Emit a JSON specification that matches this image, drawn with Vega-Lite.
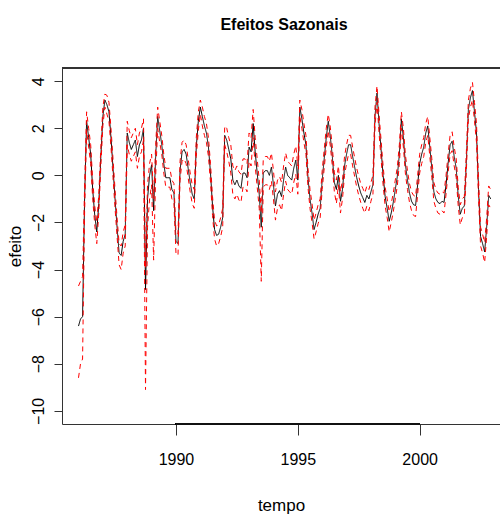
{
"$schema": "https://vega.github.io/schema/vega-lite/v6.json",
"width": 438, "height": 356,
"autosize": {"type": "none"},
"padding": {"left": 62, "top": 68, "right": 0, "bottom": 93},
"background": "white",
"config": {"view": {"stroke": null},
"axisX": {"format": "d", "grid": false, "domainColor": "#333", "domainWidth": 1, "tickColor": "#333", "tickSize": 11, "labelFont": "Liberation Sans Narrow, Liberation Sans, sans-serif", "labelFontSize": 16, "labelColor": "#000", "labelPadding": 16, "labelBaseline": "top", "titleFont": "Liberation Sans Narrow, Liberation Sans, sans-serif", "titleFontSize": 17, "titleFontWeight": "normal", "titleColor": "#000", "titlePadding": 30},
"axisY": {"format": "d", "grid": false, "domainColor": "#333", "domainWidth": 1, "tickColor": "#333", "tickSize": 8, "labelAngle": -90, "labelFont": "Liberation Sans", "labelFontSize": 16, "labelColor": "#000", "labelPadding": 8, "titleFont": "Liberation Sans", "titleFontSize": 17, "titleFontWeight": "normal", "titleColor": "#000", "titlePadding": 6}
},
"title": {"text": "Efeitos Sazonais", "font": "Liberation Sans Narrow, Liberation Sans, sans-serif", "fontSize": 16, "fontWeight": "bold", "color": "#000", "anchor": "middle", "baseline": "alphabetic", "offset": 22, "dx": 3},
"data": {"values": [
{"t":1986.000,"v":-6.4,"lo":-8.6,"hi":-4.7},{"t":1986.083,"v":-6.1,"lo":-8.0,"hi":-4.5},{"t":1986.167,"v":-6.0,"lo":-7.8,"hi":-4.3},{"t":1986.250,"v":-1.0,"lo":-1.6,"hi":-0.5},{"t":1986.333,"v":2.3,"lo":1.9,"hi":2.7},{"t":1986.417,"v":1.6,"lo":1.2,"hi":2.0},{"t":1986.500,"v":0.9,"lo":0.5,"hi":1.3},{"t":1986.583,"v":-0.6,"lo":-1.0,"hi":-0.2},{"t":1986.667,"v":-1.7,"lo":-2.1,"hi":-1.3},{"t":1986.750,"v":-2.4,"lo":-2.9,"hi":-2.0},{"t":1986.833,"v":-1.2,"lo":-1.6,"hi":-0.8},{"t":1986.917,"v":0.8,"lo":0.4,"hi":1.2},
{"t":1987.000,"v":2.5,"lo":2.1,"hi":2.9},{"t":1987.083,"v":3.2,"lo":2.9,"hi":3.45},{"t":1987.167,"v":3.0,"lo":2.6,"hi":3.4},{"t":1987.250,"v":2.7,"lo":2.3,"hi":3.1},{"t":1987.333,"v":1.6,"lo":1.2,"hi":2.0},{"t":1987.417,"v":0.3,"lo":-0.1,"hi":0.7},{"t":1987.500,"v":-1.0,"lo":-1.4,"hi":-0.6},{"t":1987.583,"v":-2.2,"lo":-2.6,"hi":-1.8},{"t":1987.667,"v":-3.3,"lo":-3.8,"hi":-2.9},{"t":1987.750,"v":-3.4,"lo":-4.0,"hi":-3.0},{"t":1987.833,"v":-2.8,"lo":-3.3,"hi":-2.4},{"t":1987.917,"v":-2.5,"lo":-3.0,"hi":-2.1},
{"t":1988.000,"v":1.8,"lo":1.3,"hi":2.3},{"t":1988.083,"v":1.4,"lo":0.9,"hi":1.9},{"t":1988.167,"v":1.1,"lo":0.6,"hi":1.6},{"t":1988.250,"v":1.3,"lo":0.8,"hi":1.8},{"t":1988.333,"v":1.5,"lo":1.0,"hi":2.0},{"t":1988.417,"v":0.8,"lo":0.3,"hi":1.3},{"t":1988.500,"v":1.3,"lo":0.8,"hi":1.8},{"t":1988.583,"v":1.5,"lo":1.0,"hi":2.0},{"t":1988.667,"v":2.0,"lo":1.5,"hi":2.4},{"t":1988.750,"v":-4.85,"lo":-9.1,"hi":-3.9},{"t":1988.833,"v":-1.0,"lo":-2.2,"hi":-0.4},{"t":1988.917,"v":0.0,"lo":-1.0,"hi":0.5},
{"t":1989.000,"v":0.45,"lo":-0.4,"hi":0.9},{"t":1989.083,"v":-1.5,"lo":-3.6,"hi":-1.0},{"t":1989.167,"v":0.8,"lo":0.0,"hi":1.3},{"t":1989.250,"v":2.5,"lo":2.0,"hi":2.9},{"t":1989.333,"v":1.9,"lo":1.4,"hi":2.3},{"t":1989.417,"v":1.3,"lo":0.9,"hi":1.7},{"t":1989.500,"v":0.5,"lo":0.1,"hi":0.9},{"t":1989.583,"v":-0.1,"lo":-0.5,"hi":0.3},{"t":1989.667,"v":-0.1,"lo":-0.5,"hi":0.3},{"t":1989.750,"v":-0.1,"lo":-0.5,"hi":0.3},{"t":1989.833,"v":-0.6,"lo":-1.0,"hi":-0.2},{"t":1989.917,"v":-0.75,"lo":-1.2,"hi":-0.35},
{"t":1990.000,"v":-2.8,"lo":-3.3,"hi":-2.4},{"t":1990.083,"v":-2.9,"lo":-3.4,"hi":-2.5},{"t":1990.167,"v":0.2,"lo":-0.2,"hi":0.6},{"t":1990.250,"v":1.0,"lo":0.6,"hi":1.4},{"t":1990.333,"v":1.1,"lo":0.7,"hi":1.5},{"t":1990.417,"v":0.9,"lo":0.5,"hi":1.3},{"t":1990.500,"v":0.3,"lo":-0.1,"hi":0.7},{"t":1990.583,"v":-0.3,"lo":-0.7,"hi":0.1},{"t":1990.667,"v":-0.8,"lo":-1.2,"hi":-0.4},{"t":1990.750,"v":-1.0,"lo":-1.4,"hi":-0.6},{"t":1990.833,"v":1.2,"lo":0.8,"hi":1.6},{"t":1990.917,"v":2.3,"lo":1.9,"hi":2.7},
{"t":1991.000,"v":2.9,"lo":2.6,"hi":3.2},{"t":1991.083,"v":2.5,"lo":2.1,"hi":2.9},{"t":1991.167,"v":2.1,"lo":1.7,"hi":2.5},{"t":1991.250,"v":1.8,"lo":1.4,"hi":2.2},{"t":1991.333,"v":1.2,"lo":0.8,"hi":1.6},{"t":1991.417,"v":0.1,"lo":-0.3,"hi":0.5},{"t":1991.500,"v":-1.3,"lo":-1.7,"hi":-0.9},{"t":1991.583,"v":-2.3,"lo":-2.7,"hi":-1.9},{"t":1991.667,"v":-2.55,"lo":-3.0,"hi":-2.15},{"t":1991.750,"v":-2.5,"lo":-2.9,"hi":-2.1},{"t":1991.833,"v":-2.2,"lo":-2.6,"hi":-1.8},{"t":1991.917,"v":-1.8,"lo":-2.2,"hi":-1.4},
{"t":1992.000,"v":1.7,"lo":1.3,"hi":2.1},{"t":1992.083,"v":1.5,"lo":1.0,"hi":2.0},{"t":1992.167,"v":1.1,"lo":0.6,"hi":1.6},{"t":1992.250,"v":0.7,"lo":0.1,"hi":1.3},{"t":1992.333,"v":-0.2,"lo":-0.8,"hi":0.4},{"t":1992.417,"v":-0.4,"lo":-1.0,"hi":0.2},{"t":1992.500,"v":-0.2,"lo":-0.8,"hi":0.4},{"t":1992.583,"v":-0.45,"lo":-1.05,"hi":0.15},{"t":1992.667,"v":-0.55,"lo":-1.15,"hi":0.05},{"t":1992.750,"v":0.1,"lo":-0.5,"hi":0.7},{"t":1992.833,"v":0.1,"lo":-0.5,"hi":0.7},{"t":1992.917,"v":-0.1,"lo":-0.7,"hi":0.5},
{"t":1993.000,"v":1.2,"lo":0.6,"hi":1.8},{"t":1993.083,"v":1.0,"lo":0.4,"hi":1.6},{"t":1993.167,"v":2.2,"lo":1.6,"hi":2.8},{"t":1993.250,"v":1.0,"lo":0.4,"hi":1.6},{"t":1993.333,"v":0.1,"lo":-0.5,"hi":0.7},{"t":1993.417,"v":-0.8,"lo":-1.4,"hi":-0.2},{"t":1993.500,"v":-2.2,"lo":-4.5,"hi":-1.6},{"t":1993.583,"v":0.1,"lo":-0.5,"hi":0.7},{"t":1993.667,"v":0.2,"lo":-0.4,"hi":0.8},{"t":1993.750,"v":0.2,"lo":-0.4,"hi":0.8},{"t":1993.833,"v":0.0,"lo":-0.6,"hi":0.6},{"t":1993.917,"v":0.35,"lo":-0.25,"hi":0.95},
{"t":1994.000,"v":-0.4,"lo":-1.0,"hi":0.2},{"t":1994.083,"v":-1.3,"lo":-1.9,"hi":-0.7},{"t":1994.167,"v":-0.8,"lo":-1.4,"hi":-0.2},{"t":1994.250,"v":-0.65,"lo":-1.25,"hi":-0.05},{"t":1994.333,"v":-0.9,"lo":-1.5,"hi":-0.3},{"t":1994.417,"v":-0.2,"lo":-0.8,"hi":0.4},{"t":1994.500,"v":0.35,"lo":-0.25,"hi":0.95},{"t":1994.583,"v":0.0,"lo":-0.6,"hi":0.6},{"t":1994.667,"v":-0.1,"lo":-0.7,"hi":0.5},{"t":1994.750,"v":-0.2,"lo":-0.8,"hi":0.4},{"t":1994.833,"v":0.3,"lo":-0.3,"hi":0.9},{"t":1994.917,"v":0.65,"lo":0.05,"hi":1.25},
{"t":1995.000,"v":-0.2,"lo":-0.8,"hi":0.4},{"t":1995.083,"v":2.9,"lo":2.5,"hi":3.2},{"t":1995.167,"v":2.4,"lo":2.0,"hi":2.8},{"t":1995.250,"v":1.8,"lo":1.4,"hi":2.2},{"t":1995.333,"v":1.3,"lo":0.9,"hi":1.7},{"t":1995.417,"v":-0.1,"lo":-0.5,"hi":0.3},{"t":1995.500,"v":-1.0,"lo":-1.4,"hi":-0.6},{"t":1995.583,"v":-1.6,"lo":-2.0,"hi":-1.2},{"t":1995.667,"v":-2.3,"lo":-2.7,"hi":-1.9},{"t":1995.750,"v":-2.0,"lo":-2.4,"hi":-1.6},{"t":1995.833,"v":-1.65,"lo":-2.05,"hi":-1.25},{"t":1995.917,"v":-1.4,"lo":-1.8,"hi":-1.0},
{"t":1996.000,"v":-0.2,"lo":-0.6,"hi":0.2},{"t":1996.083,"v":0.7,"lo":0.3,"hi":1.1},{"t":1996.167,"v":1.6,"lo":1.2,"hi":2.0},{"t":1996.250,"v":2.3,"lo":1.9,"hi":2.6},{"t":1996.333,"v":1.65,"lo":1.25,"hi":2.05},{"t":1996.417,"v":0.8,"lo":0.4,"hi":1.2},{"t":1996.500,"v":-0.3,"lo":-0.7,"hi":0.1},{"t":1996.583,"v":-0.6,"lo":-1.2,"hi":-0.2},{"t":1996.667,"v":0.0,"lo":-0.4,"hi":0.4},{"t":1996.750,"v":-1.1,"lo":-1.6,"hi":-0.7},{"t":1996.833,"v":-0.6,"lo":-1.0,"hi":-0.2},{"t":1996.917,"v":0.4,"lo":0.0,"hi":0.8},
{"t":1997.000,"v":0.9,"lo":0.5,"hi":1.3},{"t":1997.083,"v":1.3,"lo":0.9,"hi":1.7},{"t":1997.167,"v":1.3,"lo":0.9,"hi":1.7},{"t":1997.250,"v":0.8,"lo":0.4,"hi":1.2},{"t":1997.333,"v":0.35,"lo":-0.05,"hi":0.75},{"t":1997.417,"v":-0.1,"lo":-0.5,"hi":0.3},{"t":1997.500,"v":-0.45,"lo":-0.85,"hi":-0.05},{"t":1997.583,"v":-0.75,"lo":-1.15,"hi":-0.35},{"t":1997.667,"v":-0.95,"lo":-1.4,"hi":-0.55},{"t":1997.750,"v":-1.15,"lo":-1.6,"hi":-0.75},{"t":1997.833,"v":-0.85,"lo":-1.3,"hi":-0.45},{"t":1997.917,"v":-1.0,"lo":-1.5,"hi":-0.6},
{"t":1998.000,"v":-0.7,"lo":-1.1,"hi":-0.3},{"t":1998.083,"v":-0.4,"lo":-0.8,"hi":0.0},{"t":1998.167,"v":2.5,"lo":2.1,"hi":2.9},{"t":1998.250,"v":3.5,"lo":3.1,"hi":3.8},{"t":1998.333,"v":2.2,"lo":1.8,"hi":2.6},{"t":1998.417,"v":1.1,"lo":0.7,"hi":1.5},{"t":1998.500,"v":0.0,"lo":-0.4,"hi":0.4},{"t":1998.583,"v":-0.9,"lo":-1.3,"hi":-0.5},{"t":1998.667,"v":-1.4,"lo":-1.8,"hi":-1.0},{"t":1998.750,"v":-1.95,"lo":-2.4,"hi":-1.55},{"t":1998.833,"v":-1.6,"lo":-2.0,"hi":-1.2},{"t":1998.917,"v":-1.15,"lo":-1.55,"hi":-0.75},
{"t":1999.000,"v":-0.6,"lo":-1.0,"hi":-0.2},{"t":1999.083,"v":-0.05,"lo":-0.45,"hi":0.35},{"t":1999.167,"v":0.9,"lo":0.5,"hi":1.3},{"t":1999.250,"v":2.4,"lo":2.0,"hi":2.7},{"t":1999.333,"v":1.6,"lo":1.2,"hi":2.0},{"t":1999.417,"v":0.45,"lo":0.05,"hi":0.85},{"t":1999.500,"v":-0.2,"lo":-0.6,"hi":0.2},{"t":1999.583,"v":-0.75,"lo":-1.15,"hi":-0.35},{"t":1999.667,"v":-1.1,"lo":-1.5,"hi":-0.7},{"t":1999.750,"v":-1.25,"lo":-1.7,"hi":-0.85},{"t":1999.833,"v":-1.28,"lo":-1.75,"hi":-0.9},{"t":1999.917,"v":-0.4,"lo":-0.8,"hi":0.0},
{"t":2000.000,"v":0.5,"lo":0.1,"hi":0.9},{"t":2000.083,"v":0.9,"lo":0.5,"hi":1.3},{"t":2000.167,"v":1.2,"lo":0.8,"hi":1.6},{"t":2000.250,"v":1.8,"lo":1.4,"hi":2.2},{"t":2000.333,"v":2.1,"lo":1.7,"hi":2.5},{"t":2000.417,"v":1.2,"lo":0.8,"hi":1.6},{"t":2000.500,"v":0.3,"lo":-0.1,"hi":0.7},{"t":2000.583,"v":-0.7,"lo":-1.1,"hi":-0.3},{"t":2000.667,"v":-1.0,"lo":-1.4,"hi":-0.6},{"t":2000.750,"v":-1.15,"lo":-1.6,"hi":-0.75},{"t":2000.833,"v":-1.2,"lo":-1.65,"hi":-0.8},{"t":2000.917,"v":-1.1,"lo":-1.5,"hi":-0.7},
{"t":2001.000,"v":-1.15,"lo":-1.6,"hi":-0.75},{"t":2001.083,"v":-0.4,"lo":-0.8,"hi":0.0},{"t":2001.167,"v":0.5,"lo":0.1,"hi":0.9},{"t":2001.250,"v":1.3,"lo":0.9,"hi":1.7},{"t":2001.333,"v":1.45,"lo":1.05,"hi":1.85},{"t":2001.417,"v":0.8,"lo":0.4,"hi":1.2},{"t":2001.500,"v":0.3,"lo":-0.1,"hi":0.7},{"t":2001.583,"v":-0.9,"lo":-1.3,"hi":-0.5},{"t":2001.667,"v":-1.65,"lo":-2.1,"hi":-1.25},{"t":2001.750,"v":-1.4,"lo":-1.8,"hi":-1.0},{"t":2001.833,"v":-1.3,"lo":-1.7,"hi":-0.9},{"t":2001.917,"v":0.6,"lo":0.2,"hi":1.0},
{"t":2002.000,"v":2.8,"lo":2.4,"hi":3.2},{"t":2002.083,"v":3.3,"lo":2.9,"hi":3.7},{"t":2002.167,"v":3.6,"lo":3.2,"hi":3.95},{"t":2002.250,"v":2.7,"lo":2.3,"hi":3.1},{"t":2002.333,"v":1.8,"lo":1.4,"hi":2.2},{"t":2002.417,"v":-0.6,"lo":-1.0,"hi":-0.2},{"t":2002.500,"v":-2.6,"lo":-3.0,"hi":-2.2},{"t":2002.583,"v":-2.9,"lo":-3.3,"hi":-2.5},{"t":2002.667,"v":-3.25,"lo":-3.7,"hi":-2.85},{"t":2002.750,"v":-2.2,"lo":-2.6,"hi":-1.8},{"t":2002.833,"v":-0.85,"lo":-1.25,"hi":-0.45},{"t":2002.917,"v":-1.0,"lo":-1.4,"hi":-0.6}
]},
"layer": [
{
"transform": [{"fold": ["v", "lo", "hi"], "as": ["s", "y"]}],
"mark": {"type": "line", "strokeWidth": 1, "clip": true},
"encoding": {
"x": {"field": "t", "type": "quantitative", "scale": {"domain": [1985.323, 2003.297], "nice": false, "zero": false}, "title": "tempo", "axis": {"values": [1990, 1995, 2000]}},
"y": {"field": "y", "type": "quantitative", "scale": {"domain": [-10.56, 4.56], "nice": false, "zero": false}, "title": "efeito", "axis": {"values": [-10, -8, -6, -4, -2, 0, 2, 4]}},
"color": {"field": "s", "type": "nominal", "scale": {"domain": ["v", "lo", "hi"], "range": ["#000000", "#FF0000", "#FF0000"]}, "legend": null},
"strokeDash": {"field": "s", "type": "nominal", "scale": {"domain": ["v", "lo", "hi"], "range": [[1, 0], [5, 4], [5, 4]]}, "legend": null}
}
},
{
"mark": {"type": "rule", "color": "#333", "strokeWidth": 1},
"encoding": {
"x": {"datum": 1985.323, "type": "quantitative", "title": "tempo", "axis": {"values": [1990, 1995, 2000]}},
"x2": {"datum": 2003.297},
"y": {"datum": 4.56, "type": "quantitative", "title": "efeito", "axis": {"values": [-10, -8, -6, -4, -2, 0, 2, 4]}}
}
},
{
"mark": {"type": "rule", "color": "#111", "strokeWidth": 2},
"encoding": {
"x": {"datum": 1990, "type": "quantitative", "title": "tempo", "axis": {"values": [1990, 1995, 2000]}},
"x2": {"datum": 2000},
"y": {"datum": -10.56, "type": "quantitative", "title": "efeito", "axis": {"values": [-10, -8, -6, -4, -2, 0, 2, 4]}}
}
}
]
}
